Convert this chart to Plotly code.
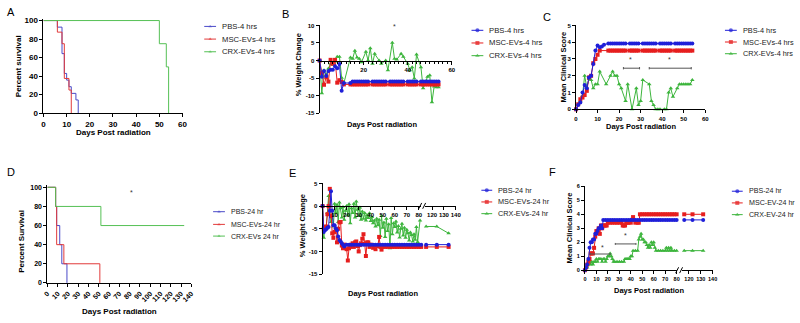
import plotly.graph_objects as go

W, H = 800, 323
FONT = "Arial, Liberation Sans, sans-serif"
BLUE, RED, GREEN = "#1f1fd8", "#e61e1e", "#3db53d"
SBLUE, SRED, SGREEN = "#4a4ac8", "#e23a3a", "#55c055"

# ---------------- data ----------------
# A: survival 4 hrs
A_pbs_days = [0, 6, 8, 9, 10, 11, 12, 14, 15]
A_pbs_surv = [100, 92.9, 64.3, 42.9, 35.7, 28.6, 21.4, 14.3, 0]
A_msc_days = [0, 6, 8, 9, 11, 12]
A_msc_surv = [100, 87.5, 75, 37.5, 25, 0]
A_crx_days = [0, 50, 53, 54]
A_crx_surv = [100, 75, 50, 0]

# B: weight change 4 hrs
B_pbs_days = [0, 1, 2, 3, 4, 5, 6, 7, 8, 9, 10, 11, 14, 15, 16, 17, 18, 19, 20, 21, 22, 24, 25, 26, 27, 28, 29, 30,
              32, 33, 34, 35, 36, 37, 38, 40, 41, 42, 43, 44, 46, 47, 48, 49, 50, 51, 52, 53, 54]
B_pbs_vals = [0, -4.6, -3.0, -4.4, -3.0, -2.6, -2.6, -1.6, -2.2, -1.0, -8.6, -6.4,
              -6.4, -6.0, -6.0, -6.0, -6.0, -6.0, -6.0, -6.0, -6.0,
              -6.0, -6.0, -6.0, -6.0, -6.0, -6.0, -6.0,
              -6.0, -6.0, -6.0, -6.0, -6.0, -6.0, -6.0,
              -6.0, -6.0, -6.0, -6.0, -6.0,
              -6.0, -6.0, -6.0, -6.0, -6.0, -6.0, -6.0, -6.0, -6.0]
B_msc_days = B_pbs_days
B_msc_vals = [0, -3.5, -6.9, -4.8, -6.0, 0.2, -0.9, 0.2, -6.3, -5.6, -6.1, -6.8,
              -6.8, -6.8, -6.8, -6.8, -6.8, -6.8, -6.8, -6.8, -6.8,
              -6.8, -6.8, -6.8, -6.8, -6.8, -6.8, -6.8,
              -6.8, -6.8, -6.8, -6.8, -6.8, -6.8, -6.8,
              -6.8, -6.8, -6.8, -6.8, -6.8,
              -6.8, -6.8, -6.8, -6.8, -6.8, -6.8, -6.8, -6.8, -6.8]
B_crx_days = [0, 1, 2, 3, 4, 5, 6, 7, 8, 9, 10, 11,
              14, 15, 16, 17, 18, 19, 21, 22, 23, 24, 25, 27, 28, 30, 31,
              33, 34, 35, 37, 38, 40, 41, 42, 43, 44, 46, 47, 49, 50, 51, 52, 53, 54]
B_crx_vals = [0, -9.3, -2.8, -4.0, -2.3, -0.9, -1.2, -0.3, 1.1, 1.1, -4.9, -6.5,
              0.9, 0.5, 2.8, 0.9, 0.5, -0.5, 2.5, 0.0, 3.5, -0.9, 1.9, 0.0, -0.9, 0.0, -2.8,
              5.1, 0.5, 0.3, 1.9, 1.1, -0.9, -2.8, -1.9, -5.1, 1.7, -1.9, -7.9, -4.6, -4.2, -11.9, -7.4, -7.6, -7.6]

# C: clinical score 4 hrs
C_tail_days = [15, 16, 17, 18, 19, 20, 21, 22, 23, 25, 26, 27, 28, 29, 31, 32, 33, 34, 35, 36, 37,
               39, 40, 41, 42, 43, 44, 46, 47, 48, 49, 50, 51, 52, 53, 54]
C_pbs_days = [0, 1, 2, 3, 4, 5, 6, 7, 8, 9, 10, 11, 12, 13] + C_tail_days
C_pbs_vals = [0, 0.25, 0.4, 1.0, 1.45, 1.25, 1.9, 2.0, 2.7, 3.5, 3.8, 3.7, 3.75, 3.85,
              3.92, 3.92, 3.92, 3.92, 3.92, 3.92, 3.92, 3.92, 3.92, 3.92, 3.92, 3.92, 3.92, 3.92, 3.92, 3.92, 3.92, 3.92,
              3.92, 3.92, 3.92, 3.92, 3.92, 3.92, 3.92, 3.92, 3.92, 3.92, 3.92, 3.92, 3.92, 3.92, 3.92, 3.92, 3.92, 3.92]
C_msc_days = [0, 1, 2, 3, 4, 5, 6, 7, 8, 9, 10, 11] + C_tail_days
C_msc_vals = [0, 0.3, 0.6, 0.7, 0.85, 1.1, 1.9, 2.0, 2.75, 3.0, 3.25, 3.5,
              3.5, 3.5, 3.5, 3.5, 3.5, 3.5, 3.5, 3.5, 3.5, 3.5, 3.5, 3.5, 3.5, 3.5, 3.5, 3.5, 3.5, 3.5,
              3.5, 3.5, 3.5, 3.5, 3.5, 3.5, 3.5, 3.5, 3.5, 3.5, 3.5, 3.5, 3.5, 3.5, 3.5, 3.5, 3.5, 3.5]
C_crx_days = [0, 1, 2, 3, 4, 5, 6, 7, 8, 9, 10, 11, 14, 16, 17, 18, 19, 20, 21, 23, 24, 26, 28, 29, 30, 31,
              34, 35, 36, 37, 38, 39, 41, 42, 43, 44, 45, 47, 48, 49, 50, 51, 52, 53, 54]
C_crx_vals = [0, 0.3, 0.5, 0.8, 2.0, 1.3, 1.8, 1.75, 1.25, 1.5, 1.5, 2.25,
              1.5, 2.0, 2.25, 2.0, 2.0, 1.5, 1.25,
              0.5, 1.5, 0, 1.25, 0.25, 0.5, 1.75,
              1.5, 0.5, 0.25, 0, 0, 0,
              0, 0, 1.0, 1.25, 0.75,
              1.25, 1.5, 1.5, 1.5, 1.5, 1.5, 1.5, 1.75]

# D: survival 24 hr
D_pbs_days = [0, 8, 9, 12, 14, 19]
D_pbs_surv = [100, 80, 60, 40, 20, 0]
D_msc_days = [0, 8, 9, 16, 51]
D_msc_surv = [100, 80, 40, 20, 0]
D_crx_days = [0, 8, 52, 133]
D_crx_surv = [100, 80, 60, 60]

# E: weight change 24 hr
E_pbs_days = [0, 1, 2, 3, 4, 5, 6, 7, 8, 9, 10, 11, 12, 13, 14, 15, 16, 17, 18,
              20, 22, 24, 26, 28, 30, 32, 34, 36, 38, 40, 42, 44, 46, 48, 50, 52, 54, 56, 58, 60, 62, 64, 66, 68,
              70, 72, 74, 76, 78, 80, 82, 115, 124, 134]
E_pbs_vals = [0, -5.7, -5.3, -5.1, -4.8, -4.6, -1.0, 3.3, -1.0, -4.2, -4.2, -4.9, -5.3, -6.7, -7.5, -7.8, -8.2, -8.5, -8.9,
              -8.5, -8.5, -8.5, -8.5, -8.5, -8.5, -8.5, -8.5, -8.5, -8.5, -8.5, -8.5, -8.5, -8.5, -8.5, -8.5,
              -8.5, -8.5, -8.5, -8.5, -8.5, -8.5, -8.5, -8.5, -8.5, -8.5, -8.5, -8.5, -8.5, -8.5, -8.5, -8.5,
              -8.5, -8.5, -8.5]
E_msc_days = [0, 1, 2, 3, 4, 5, 6, 7, 8, 9, 10, 11, 12, 13, 14, 15, 16, 17, 18,
              20, 21, 22, 23, 24, 25, 26, 27, 28, 29, 30, 31, 32, 33, 34, 35, 36, 37, 38, 39, 40,
              42, 43, 44, 46, 47, 48, 49, 50,
              52, 54, 56, 58, 60, 62, 64, 66, 68, 70, 72, 74, 76, 78, 80, 82, 115, 124, 134]
E_msc_vals = [0, -5.0, -4.7, -4.5, -1.8, 0.0, 3.8, -2.2, -6.0, -7.0, -5.7, -5.3, -8.0, -5.0, -3.6, -3.5, -8.7, -9.3, -8.5,
              -9.5, -12.0, -9.3, -9.0, -8.5, -8.2, -9.0, -8.0, -7.8, -8.8, -10.0, -8.6, -8.2, -7.2, -6.2, -8.3, -11.0,
              -8.0, -8.0, -9.0, -8.5,
              -9.2, -8.7, -9.5, -8.8, -6.8, -9.0, -9.6, -9.0,
              -9.0, -9.0, -9.0, -9.0, -9.0, -9.0, -9.0, -9.0, -9.0, -9.0, -9.0, -9.0, -9.0, -9.0, -9.0, -9.0,
              -9.0, -9.0, -9.0]
E_crx_days = [0, 1, 2, 3, 4, 5, 6, 7, 8, 9, 10, 11, 12, 13, 14, 15, 16, 17, 18, 19, 20, 21, 22, 23, 24, 25, 26, 27,
              28, 29, 30, 31, 32, 33, 34, 35, 36, 37, 38, 39, 40, 41, 42, 43, 44, 45, 46, 47, 48, 49, 50, 51, 52,
              53, 54, 55, 56, 57, 58, 59, 60, 61, 62, 63, 64, 65, 66, 67, 68, 69, 70, 71, 72, 73, 74, 75, 76, 77,
              78, 79, 81, 115, 124, 134]
E_crx_vals = [0, -7.0, -4.5, -4.8, -1.5, 2.2, -1.0, -3.5, -2.0, -4.5, 0.5, -1.5, 0.3, -3.5, 0.8, -0.5, -2.5, -0.2,
              -3.0, -1.0, 0.0, -2.0, 0.4, -3.8, -0.5, -1.5, 0.5, -2.5, 1.0, -0.8, -2.2, -0.3, -3.0, -1.2, -2.8,
              -1.5, -3.2, -2.0, -2.6, -1.6, -3.3, -2.4, -3.8, -3.2, -4.5, -2.8, -4.2, -3.0, -6.6, -2.2, -4.8,
              -3.6, -6.8, -2.8, -5.5, -4.0, -9.3, -2.6, -6.2, -3.8, -4.6, -3.4, -5.8, -4.4, -6.9, -5.0, -3.9,
              -6.5, -4.8, -7.0, -5.2, -6.0, -7.6, -5.8, -6.4, -7.8, -6.2, -7.4, -4.6, -7.9, -3.2,
              -4.5, -4.5, -6.0]

# F: clinical score 24 hr
F_pbs_days = [0, 1, 2, 3, 4, 5, 6, 7, 8, 9, 10, 11, 12, 13, 14, 15, 16,
              18, 20, 22, 24, 26, 28, 30, 32, 34, 36, 38, 40, 42, 44, 46, 48, 50, 52, 54, 56, 58, 60, 62, 64,
              66, 68, 70, 72, 74, 76, 78, 80, 116, 123, 132]
F_pbs_vals = [0, 0.2, 0.4, 0.8, 1.6, 2.0, 2.0, 2.2, 2.2, 2.6, 2.6, 2.8, 3.0, 3.0, 3.2, 3.0, 3.6,
              3.6, 3.6, 3.6, 3.6, 3.6, 3.6, 3.6, 3.6, 3.6, 3.6, 3.6, 3.6, 3.6, 3.6, 3.6, 3.6, 3.6, 3.6, 3.6,
              3.6, 3.6, 3.6, 3.6, 3.6, 3.6, 3.6, 3.6, 3.6, 3.6, 3.6, 3.6, 3.6, 3.6, 3.6, 3.6]
F_msc_days = [0, 1, 2, 3, 4, 5, 6, 7, 8, 9, 10, 11, 12, 13, 14, 15, 16, 17, 18, 19, 20,
              22, 24, 26, 28, 30, 32, 33, 34, 35, 36, 37, 38, 40, 41, 42, 44, 46, 47,
              48, 50, 52, 54, 56, 58, 60, 62, 64, 66, 68, 70, 72, 74, 76, 78, 80, 116, 123, 132]
F_msc_vals = [0, 0.2, 0.4, 0.6, 0.8, 1.2, 1.2, 1.2, 1.6, 2.4, 2.8, 2.8, 3.0, 2.6, 3.2, 3.0, 3.2, 3.2, 3.2, 3.2, 3.4,
              3.4, 3.4, 3.4, 3.4, 3.4, 3.4, 3.2, 3.2, 3.2, 3.4, 3.4, 3.4, 3.4, 3.6, 3.8, 3.4, 3.4, 3.4,
              4.0, 4.0, 4.0, 4.0, 4.0, 4.0, 4.0, 4.0, 4.0, 4.0, 4.0, 4.0, 4.0, 4.0, 4.0, 4.0, 4.0, 4.0, 4.0, 4.0]
F_crx_days = [0, 2, 3, 4, 5, 6, 7, 8, 9, 10, 11, 12, 13, 14, 15, 16, 17, 18, 19, 20, 21, 22, 23, 24, 25, 26, 28, 30,
              32, 34, 35, 36, 37, 38, 39, 40, 41, 42, 44, 46, 47, 48, 49, 50, 51, 52, 53, 54, 55, 56, 57, 58, 59,
              60, 61, 62, 64, 66, 68, 70, 71, 72, 73, 74, 75, 76, 78, 80, 116, 123, 132]
F_crx_vals = [0, 0.2, 0.4, 0.6, 0.4, 0.6, 0.4, 0.6, 0.6, 0.8, 0.6, 0.8, 0.8, 0.8, 0.6, 0.8, 0.8, 0.6, 0.8, 1.0, 1.0,
              1.2, 1.0, 0.8, 0.6, 0.6, 0.6, 0.6, 0.6, 0.6, 0.8, 0.8, 0.8, 0.8, 0.8, 1.0, 1.0, 1.4, 1.4, 1.4, 2.2,
              2.4, 2.6, 2.2, 2.2, 2.0, 2.0, 1.8, 1.6, 1.8, 1.6, 2.0, 1.8, 2.0, 1.6, 1.4, 1.4, 1.4, 1.4, 1.4, 1.6,
              1.4, 1.6, 1.4, 1.6, 1.4, 1.4, 1.4, 1.4, 1.4, 1.4]

LEG_4 = ["PBS-4 hrs", "MSC-EVs-4 hrs", "CRX-EVs-4 hrs"]
LEG_D = ["PBS-24 hr", "MSC-EVs-24 hr", "CRX-EVs 24 hr"]
LEG_E = ["PBS-24 hr", "MSC-EVs-24 hr", "CRX-EVs-24 hr"]
LEG_F = ["PBS-24 hr", "MSC-EV-24 hr", "CRX-EV-24 hr"]

# ---------------- helpers ----------------
def lin(pa, va, pb, vb):
    return lambda v: pa + (v - va) * (pb - pa) / (vb - va)

def xdom(pa, va, pb, vb, r):
    f = lin(pa, va, pb, vb)
    return [f(r[0]) / W, f(r[1]) / W]

def ydom(pa, va, pb, vb, r):
    f = lin(pa, va, pb, vb)
    a, b = 1 - f(r[0]) / H, 1 - f(r[1]) / H
    return [min(a, b), max(a, b)]

def axis(domain, rng, tickvals, ticktext=None, fsize=6, **kw):
    d = dict(domain=domain, range=rng, tickvals=tickvals, showline=True, linecolor="black", linewidth=1,
             ticks="outside", ticklen=3, tickwidth=1, tickcolor="black", showgrid=False, zeroline=False,
             tickfont=dict(family=FONT, size=fsize, color="black", weight="bold"), fixedrange=True)
    if ticktext is not None:
        d["ticktext"] = ticktext
    d.update(kw)
    return d

fig = go.Figure()

def surv(x, y, color, xa, ya):
    fig.add_trace(go.Scatter(x=x, y=y, mode="lines", line=dict(shape="hv", width=1, color=color),
                             xaxis=xa, yaxis=ya, showlegend=False, cliponaxis=False))

def series(x, y, color, symbol, size, xa, ya):
    fig.add_trace(go.Scatter(x=x, y=y, mode="lines+markers", line=dict(width=1, color=color),
                             marker=dict(symbol=symbol, size=size, color=color, line=dict(width=0)),
                             xaxis=xa, yaxis=ya, showlegend=False, cliponaxis=False))

def split_series(x, y, color, symbol, size, xa1, xa2, ya, cut=100):
    x1 = [a for a in x if a < cut]; y1 = [b for a, b in zip(x, y) if a < cut]
    x2 = [a for a in x if a >= cut]; y2 = [b for a, b in zip(x, y) if a >= cut]
    series(x1, y1, color, symbol, size, xa1, ya)
    series(x2, y2, color, symbol, size, xa2, ya)

# A
surv(A_pbs_days, A_pbs_surv, SBLUE, "x", "y")
surv(A_msc_days, A_msc_surv, SRED, "x", "y")
surv(A_crx_days, A_crx_surv, SGREEN, "x", "y")
# B
series(B_crx_days, B_crx_vals, GREEN, "triangle-up", 4, "x2", "y2")
series(B_msc_days, B_msc_vals, RED, "square", 4, "x2", "y2")
series(B_pbs_days, B_pbs_vals, BLUE, "circle", 4, "x2", "y2")
# C
series(C_crx_days, C_crx_vals, GREEN, "triangle-up", 4, "x3", "y3")
series(C_msc_days, C_msc_vals, RED, "square", 4, "x3", "y3")
series(C_pbs_days, C_pbs_vals, BLUE, "circle", 4, "x3", "y3")
# D
surv(D_pbs_days, D_pbs_surv, SBLUE, "x4", "y4")
surv(D_msc_days, D_msc_surv, SRED, "x4", "y4")
surv(D_crx_days, D_crx_surv, SGREEN, "x4", "y4")
# E
split_series(E_crx_days, E_crx_vals, GREEN, "triangle-up", 4, "x5", "x6", "y5")
split_series(E_msc_days, E_msc_vals, RED, "square", 4, "x5", "x6", "y5")
split_series(E_pbs_days, E_pbs_vals, BLUE, "circle", 4, "x5", "x6", "y5")
# F
split_series(F_crx_days, F_crx_vals, GREEN, "triangle-up", 4, "x7", "x8", "y6")
split_series(F_msc_days, F_msc_vals, RED, "square", 4, "x7", "x8", "y6")
split_series(F_pbs_days, F_pbs_vals, BLUE, "circle", 4, "x7", "x8", "y6")

# legend glyphs on a full-page overlay axis (pixel coordinates)
legends = [
    (202, 214, 218, [24, 37, 50], [SBLUE, SRED, SGREEN], ["triangle-up"] * 3, 3, LEG_4, 7.7),
    (473, 485, 489, [28, 41, 54], [BLUE, RED, GREEN], ["circle", "square", "triangle-up"], 4, LEG_4, 7.7),
    (730, 742, 746, [28, 40, 52], [BLUE, RED, GREEN], ["circle", "square", "triangle-up"], 4, LEG_4, 7.3),
    (211, 223, 227, [214, 227, 239], [SBLUE, SRED, SGREEN], ["triangle-up"] * 3, 3, LEG_D, 7.0),
    (483, 494, 498, [192, 204, 216], [BLUE, RED, GREEN], ["circle", "square", "triangle-up"], 4, LEG_E, 7.3),
    (737, 748, 752, [193, 205, 217], [BLUE, RED, GREEN], ["circle", "square", "triangle-up"], 4, LEG_F, 7.1),
]
annotations = []
for x0, x1, xt, rows, cols, syms, ms, labels, fs in legends:
    for yy, c, s, lab in zip(rows, cols, syms, labels):
        fig.add_trace(go.Scatter(x=[x0, (x0 + x1) / 2, x1], y=[yy, yy, yy], mode="lines+markers",
                                 line=dict(width=1, color=c),
                                 marker=dict(symbol=s, size=[0, ms, 0], color=c, line=dict(width=0)),
                                 xaxis="x9", yaxis="y7", showlegend=False, hoverinfo="skip", cliponaxis=False))
        annotations.append(dict(text=lab, x=xt / W, y=1 - yy / H, xref="paper", yref="paper",
                                xanchor="left", yanchor="middle", showarrow=False,
                                font=dict(family=FONT, size=fs, color="#222")))

def ann(text, px, py, size=8, bold=True, angle=0, xanchor="center", color="black"):
    annotations.append(dict(text=text, x=px / W, y=1 - py / H, xref="paper", yref="paper",
                            xanchor=xanchor, yanchor="middle", showarrow=False, textangle=angle,
                            font=dict(family=FONT, size=size, color=color, weight="bold" if bold else "normal")))

# panel letters
for t, px, py in [("A", 6, 9), ("B", 284, 11), ("C", 550, 14), ("D", 6, 173), ("E", 292, 174), ("F", 555, 173)]:
    ann(t, px, py, size=11, bold=False)
# axis titles
ann("Days Post radiation", 110, 133, 8)
ann("Days Post radiation", 382, 125, 7.5)
ann("Days Post radiation", 645, 127, 7.5)
ann("Days Post radiation", 116, 316, 8)
ann("Days Post radiation", 383, 298, 7.5)
ann("Days Post radiation", 653, 295, 7.5)
ann("Percent survival", 14, 65, 8, angle=-90)
ann("% Weight Change", 298, 63, 7.5, angle=-90)
ann("Mean Clinical Score", 566, 66, 7.5, angle=-90)
ann("Percent Survival", 17, 244, 8, angle=-90)
ann("% Weight Change", 302, 228, 7.5, angle=-90)
ann("Mean Clinical Score", 572, 231, 7.5, angle=-90)

# significance stars (data coordinates)
stars = [("**", "x", "y", 26, 107), ("*", "x2", "y2", 34, 9.8), ("*", "x3", "y3", 25.5, 2.95),
         ("*", "x3", "y3", 43.5, 2.95), ("*", "x4", "y4", 82, 95), ("*", "x7", "y6", 15, 1.65),
         ("*", "x7", "y6", 35, 2.5)]
for t, xr, yr, xv, yv in stars:
    annotations.append(dict(text=t, x=xv, y=yv, xref=xr, yref=yr, showarrow=False, yanchor="middle",
                            font=dict(family=FONT, size=7, color="#333")))

# brackets
shapes = []
def bracket(xr, yr, x0, x1, y, h):
    kw = dict(type="line", xref=xr, yref=yr, line=dict(color="#555", width=1))
    shapes.append(dict(x0=x0, x1=x1, y0=y, y1=y, **kw))
    shapes.append(dict(x0=x0, x1=x0, y0=y - h, y1=y + h, **kw))
    shapes.append(dict(x0=x1, x1=x1, y0=y - h, y1=y + h, **kw))
bracket("x3", "y3", 22, 29.5, 2.45, 0.07)
bracket("x3", "y3", 34, 53.5, 2.45, 0.07)
bracket("x7", "y6", 4.5, 22, 1.16, 0.07)
bracket("x7", "y6", 26.5, 44.5, 1.88, 0.07)

# axis-break marks (pixel/paper)
for (ax0, ay0, ax1, ay1) in [(419.5, 211, 422.5, 205), (423.5, 211, 426.5, 205),
                             (680, 277, 683, 271), (684, 277, 687, 271)]:
    shapes.append(dict(type="line", xref="paper", yref="paper", x0=ax0 / W, x1=ax1 / W,
                       y0=1 - ay0 / H, y1=1 - ay1 / H, line=dict(color="black", width=1)))

hy = lambda vals: [str(v) for v in vals]
posB = 1 - lin(113, -15, 23, 10)(0) / H
posE = 1 - lin(278, -15, 185, 5)(0) / H
minor2 = dict(ticks="outside", ticklen=2, tickmode="linear", tick0=0, dtick=2, tickcolor="black", tickwidth=1)

layout = dict(
    width=W, height=H, autosize=False, margin=dict(l=0, r=0, t=0, b=0),
    paper_bgcolor="white", plot_bgcolor="rgba(0,0,0,0)", showlegend=False,
    font=dict(family=FONT),
    # A
    xaxis=axis(xdom(39, 0, 180, 60, [0, 60]), [0, 60], [0, 10, 20, 30, 40, 50, 60], fsize=8, anchor="y",
               tickangle=0),
    yaxis=axis(ydom(113, 0, 18, 100, [0, 102]), [0, 102], [0, 20, 40, 60, 80, 100], fsize=8, anchor="x"),
    # B
    xaxis2=axis(xdom(319, 0, 453, 60, [0, 60]), [0, 60], [0, 20, 40, 60], ["", "20", "40", "60"],
                fsize=6, anchor="free", position=posB, minor=minor2, tickangle=0),
    yaxis2=axis(ydom(113, -15, 23, 10, [-15, 10]), [-15, 10], [-15, -10, -5, 0, 5, 10],
                hy([-15, -10, -5, 0, 5, 10]), fsize=6, anchor="x2"),
    # C
    xaxis3=axis(xdom(579, 0, 710, 60, [0, 60]), [0, 60], [0, 10, 20, 30, 40, 50, 60], fsize=6, anchor="y3",
                tickangle=0),
    yaxis3=axis(ydom(109, 0, 23, 5, [0, 5]), [0, 5], [0, 1, 2, 3, 4, 5], fsize=6, anchor="x3"),
    # D
    xaxis4=axis(xdom(43, 0, 189, 140, [0, 140]), [0, 140], list(range(0, 141, 10)), fsize=7,
                anchor="y4", tickangle=-45),
    yaxis4=axis(ydom(287, 0, 189, 100, [0, 102]), [0, 102], [0, 20, 40, 60, 80, 100], fsize=7, anchor="x4"),
    # E
    xaxis5=axis(xdom(322, 0, 419.6, 80, [0, 82]), [0, 82], [0, 10, 20, 30, 40, 50, 60, 70, 80],
                ["", "10", "20", "30", "40", "50", "60", "70", "80"], fsize=6, anchor="free", position=posE,
                tickangle=0),
    xaxis6=axis(xdom(457, 140, 433, 120, [114, 140]), [114, 140], [120, 130, 140], fsize=6,
                anchor="free", position=posE, tickangle=0),
    yaxis5=axis(ydom(278, -15, 185, 5, [-15, 5]), [-15, 5], [-15, -10, -5, 0, 5], hy([-15, -10, -5, 0, 5]),
                fsize=6, anchor="x5"),
    # F
    xaxis7=axis(xdom(588, 0, 681, 80, [0, 80.5]), [0, 80.5], [0, 10, 20, 30, 40, 50, 60, 70, 80], fsize=5.5,
                anchor="y6", tickangle=0),
    xaxis8=axis(xdom(717.5, 140, 693.5, 120, [114, 140]), [114, 140], [120, 130, 140], fsize=5.5, anchor="y6",
                tickangle=0),
    yaxis6=axis(ydom(274, 0, 188, 6, [0, 6]), [0, 6], [0, 1, 2, 3, 4, 5, 6], fsize=5.5, anchor="x7"),
    # overlay for legend glyphs
    xaxis9=dict(domain=[0, 1], range=[0, W], visible=False, fixedrange=True, anchor="y7"),
    yaxis7=dict(domain=[0, 1], range=[H, 0], visible=False, fixedrange=True, anchor="x9"),
    annotations=annotations, shapes=shapes,
)
fig.update_layout(**layout)
fig.write_html("out.html")
